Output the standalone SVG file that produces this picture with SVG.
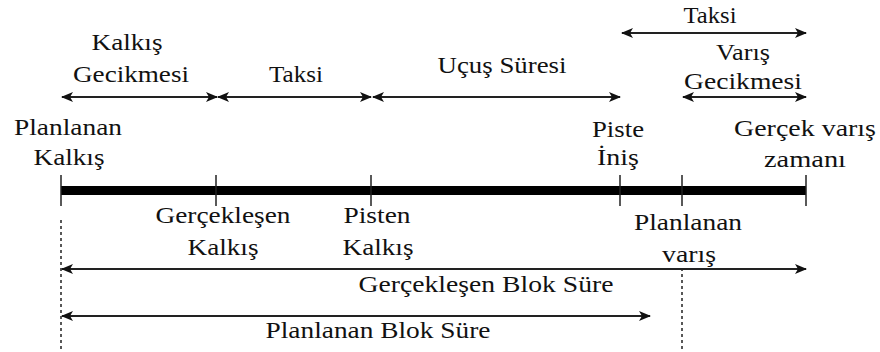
<svg xmlns="http://www.w3.org/2000/svg" width="880" height="352" viewBox="0 0 880 352">
<style>
text{font-size:23px;fill:#111;text-anchor:middle}
.arr{stroke:#222;stroke-width:2;fill:none;marker-start:url(#ah);marker-end:url(#ah)}
.tick{stroke:#222;stroke-width:1.5}
.dot{stroke:#222;stroke-width:1.5;stroke-dasharray:3 3}
</style>
<defs>
<marker id="ah" viewBox="0 0 12 10" refX="11" refY="5" markerWidth="12" markerHeight="10" markerUnits="userSpaceOnUse" orient="auto-start-reverse">
<path d="M0,0 L12,5 L0,10 L3,5 z" fill="#111"/>
</marker>
</defs>
<g id="timeline">
<rect x="61" y="186" width="745" height="9" fill="#000"/>
<line class="tick" x1="61" y1="175" x2="61" y2="206"/>
<line class="tick" x1="216" y1="175" x2="216" y2="206"/>
<line class="tick" x1="371" y1="175" x2="371" y2="206"/>
<line class="tick" x1="620" y1="175" x2="620" y2="206"/>
<line class="tick" x1="682" y1="175" x2="682" y2="206"/>
<line class="tick" x1="806" y1="175" x2="806" y2="206"/>
<line class="dot" x1="61" y1="220" x2="61" y2="352"/>
<line class="dot" x1="682" y1="268" x2="682" y2="352"/>
</g>
<g id="connectors">
<line class="arr" x1="62" y1="97" x2="217" y2="97"/>
<line class="arr" x1="218" y1="97" x2="371" y2="97"/>
<line class="arr" x1="373" y1="97" x2="620" y2="97"/>
<line class="arr" x1="622" y1="33" x2="806" y2="33"/>
<line class="arr" x1="683" y1="97" x2="806" y2="97"/>
<line class="arr" x1="62" y1="269" x2="806" y2="269"/>
<line class="arr" x1="62" y1="316" x2="650" y2="316"/>
</g>
<g id="labels" font-family="Liberation Serif, Times New Roman, DejaVu Serif, serif">
<g id="kalkis-gecikmesi"><text x="127" y="50" textLength="71" lengthAdjust="spacingAndGlyphs">Kalkış</text><text x="131" y="82" textLength="116" lengthAdjust="spacingAndGlyphs">Gecikmesi</text></g>
<g id="taksi-1"><text x="296" y="82" textLength="54" lengthAdjust="spacingAndGlyphs">Taksi</text></g>
<g id="ucus-suresi"><text x="502" y="73" textLength="129" lengthAdjust="spacingAndGlyphs">Uçuş Süresi</text></g>
<g id="taksi-2"><text x="710" y="23" textLength="53" lengthAdjust="spacingAndGlyphs">Taksi</text></g>
<g id="varis-gecikmesi"><text x="743" y="60" textLength="54" lengthAdjust="spacingAndGlyphs">Varış</text><text x="743" y="89" textLength="118" lengthAdjust="spacingAndGlyphs">Gecikmesi</text></g>
<g id="planlanan-kalkis"><text x="68" y="135" textLength="108" lengthAdjust="spacingAndGlyphs">Planlanan</text><text x="69" y="165" textLength="71" lengthAdjust="spacingAndGlyphs">Kalkış</text></g>
<g id="piste-inis"><text x="618" y="137" textLength="52" lengthAdjust="spacingAndGlyphs">Piste</text><text x="618" y="165" textLength="42" lengthAdjust="spacingAndGlyphs">İniş</text></g>
<g id="gercek-varis"><text x="805" y="136" textLength="142" lengthAdjust="spacingAndGlyphs">Gerçek varış</text><text x="805" y="167" textLength="82" lengthAdjust="spacingAndGlyphs">zamanı</text></g>
<g id="gerceklesen-kalkis"><text x="223" y="223" textLength="135" lengthAdjust="spacingAndGlyphs">Gerçekleşen</text><text x="223" y="255" textLength="71" lengthAdjust="spacingAndGlyphs">Kalkış</text></g>
<g id="pisten-kalkis"><text x="377" y="223" textLength="67" lengthAdjust="spacingAndGlyphs">Pisten</text><text x="378" y="255" textLength="71" lengthAdjust="spacingAndGlyphs">Kalkış</text></g>
<g id="planlanan-varis"><text x="688" y="230" textLength="108" lengthAdjust="spacingAndGlyphs">Planlanan</text><text x="689" y="262" textLength="54" lengthAdjust="spacingAndGlyphs">varış</text></g>
<g id="gerceklesen-blok"><text x="486" y="292" textLength="255" lengthAdjust="spacingAndGlyphs">Gerçekleşen Blok Süre</text></g>
<g id="planlanan-blok"><text x="378" y="338" textLength="225" lengthAdjust="spacingAndGlyphs">Planlanan Blok Süre</text></g>
</g>
</svg>
